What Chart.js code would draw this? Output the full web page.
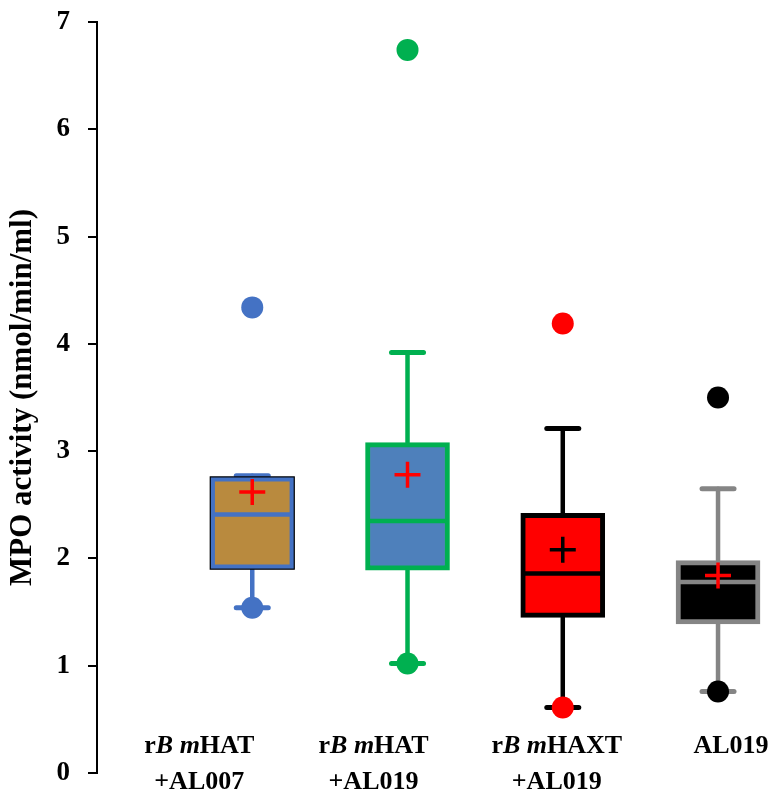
<!DOCTYPE html>
<html>
<head>
<meta charset="utf-8">
<script src="https://cdn.jsdelivr.net/npm/chart.js@4.4.0/dist/chart.umd.min.js"></script>
<style>
  html, body { margin: 0; padding: 0; background: #fff; }
  #wrap { width: 778px; height: 802px; position: relative; }
</style>
</head>
<body>
<div id="wrap"><canvas id="chart"></canvas></div>
<script>
// Datos (MPO activity, nmol/min/ml)
// *...* marca el texto en cursiva
const categories = [
    ['r*B m*HAT', '+AL007'],
    ['r*B m*HAT', '+AL019'],
    ['r*B m*HAXT', '+AL019'],
    ['AL019']
];
const q1Values      = [1.90, 1.89, 1.45, 1.39];
const q3Values      = [2.76, 3.08, 2.42, 1.98];
const medianValues  = [2.41, 2.35, 1.86, 1.78];
const meanValues    = [2.62, 2.78, 2.08, 1.84];
const minValues     = [1.54, 1.02, 0.61, 0.76];
const maxValues     = [2.77, 3.92, 3.21, 2.65];
const outlierValues = [4.34, 6.74, 4.19, 3.50];
const yTickLabels   = ['0', '1', '2', '3', '4', '5', '6', '7'];

// Estilos
const boxFill   = ['#B98A3E', '#4E80BB', '#FF0000', '#000000'];
const lineColor = ['#4472C4', '#00B050', '#000000', '#858585'];
const dotColor  = ['#4472C4', '#00B050', '#FF0000', '#000000'];
const meanColor = ['#FF0000', '#FF0000', '#000000', '#FF0000'];
const labelShift = [-53, -34, -6, 13];
const serif = '"Liberation Serif", "Times New Roman", serif';

// Bigotes, medianas y etiquetas de categoría
const boxPlotPlugin = {
    id: 'boxPlotLines',
    beforeDatasetsDraw(chart) {
        const { ctx, scales: { x, y } } = chart;
        ctx.save();
        ctx.lineCap = 'round';
        q1Values.forEach((q1, i) => {
            const cx = x.getPixelForValue(i + 1);
            ctx.strokeStyle = lineColor[i];
            ctx.lineWidth = 4.5;
            ctx.beginPath();
            ctx.moveTo(cx, y.getPixelForValue(maxValues[i]));
            ctx.lineTo(cx, y.getPixelForValue(q3Values[i]));
            ctx.moveTo(cx, y.getPixelForValue(q1));
            ctx.lineTo(cx, y.getPixelForValue(minValues[i]));
            ctx.stroke();
            ctx.lineWidth = 5;
            [maxValues[i], minValues[i]].forEach(v => {
                const py = y.getPixelForValue(v);
                ctx.beginPath();
                ctx.moveTo(cx - 16, py);
                ctx.lineTo(cx + 16, py);
                ctx.stroke();
            });
        });
        ctx.restore();
    },
    afterDatasetDraw(chart, args) {
        if (args.index !== 0) return;
        const { ctx, scales: { x, y } } = chart;
        ctx.save();
        medianValues.forEach((m, i) => {
            const cx = x.getPixelForValue(i + 1);
            const py = y.getPixelForValue(m);
            ctx.strokeStyle = lineColor[i];
            ctx.lineWidth = 4.5;
            ctx.beginPath();
            ctx.moveTo(cx - 40, py);
            ctx.lineTo(cx + 40, py);
            ctx.stroke();
        });
        // fino contorno negro de la primera caja
        const c0 = x.getPixelForValue(1);
        const top = y.getPixelForValue(q3Values[0]);
        const bot = y.getPixelForValue(q1Values[0]);
        ctx.strokeStyle = '#000';
        ctx.lineWidth = 1.2;
        ctx.strokeRect(c0 - 42, top, 84, bot - top);
        ctx.restore();
    },
    afterDraw(chart) {
        const { ctx, scales: { x } } = chart;
        const base = chart.chartArea.bottom;
        ctx.save();
        ctx.fillStyle = '#000';
        ctx.textBaseline = 'middle';
        categories.forEach((lines, i) => {
            const cx = x.getPixelForValue(i + 1) + labelShift[i];
            lines.forEach((line, j) => {
                const parts = line.split('*');
                const fonts = parts.map((p, k) => (k % 2 ? 'italic bold 26px ' : 'bold 26px ') + serif);
                let total = 0;
                parts.forEach((p, k) => { ctx.font = fonts[k]; total += ctx.measureText(p).width; });
                let px = cx - total / 2;
                const py = base - 27 + j * 36;
                parts.forEach((p, k) => {
                    ctx.font = fonts[k];
                    ctx.textAlign = 'left';
                    ctx.fillText(p, px, py);
                    px += ctx.measureText(p).width;
                });
            });
        });
        ctx.restore();
    }
};

const ctx = document.getElementById('chart').getContext('2d');
new Chart(ctx, {
    type: 'bar',
    data: {
        datasets: [
            {
                type: 'bar',
                data: q1Values.map((v, i) => ({ x: i + 1, y: [v, q3Values[i]] })),
                backgroundColor: boxFill,
                borderColor: lineColor,
                borderWidth: 5,
                borderSkipped: false,
                barThickness: 84,
                grouped: false,
                order: 3
            },
            {
                type: 'scatter',
                data: minValues.map((v, i) => ({ x: i + 1, y: v }))
                    .concat(outlierValues.map((v, i) => ({ x: i + 1, y: v }))),
                backgroundColor: dotColor.concat(dotColor),
                borderWidth: 0,
                pointRadius: 11,
                order: 2
            },
            {
                type: 'scatter',
                data: meanValues.map((v, i) => ({ x: i + 1, y: v })),
                pointStyle: 'cross',
                pointRadius: 13,
                borderWidth: 3.5,
                borderColor: meanColor,
                order: 1
            }
        ]
    },
    options: {
        responsive: true,
        maintainAspectRatio: false,
        animation: false,
        layout: { padding: { top: 22, right: 5, bottom: 29, left: 0 } },
        plugins: { legend: { display: false }, tooltip: { enabled: false } },
        scales: {
            x: { type: 'linear', min: 0, max: 4.28, offset: false, display: false },
            y: {
                min: 0,
                max: 7,
                ticks: {
                    stepSize: 1,
                    padding: 18,
                    color: '#000',
                    font: { family: serif, weight: 'bold', size: 27 },
                    callback: (v) => yTickLabels[v]
                },
                grid: { drawOnChartArea: false, tickLength: 9, color: '#000', lineWidth: 2 },
                border: { color: '#000', width: 2 },
                title: {
                    display: true,
                    text: 'MPO activity (nmol/min/ml)',
                    color: '#000',
                    font: { family: serif, weight: 'bold', size: 31 },
                    padding: { top: 4, bottom: 0 }
                },
                afterFit: (scale) => {
                    scale.width = 97;
                    scale.paddingTop = 0;
                    scale.paddingBottom = 0;
                }
            }
        }
    },
    plugins: [boxPlotPlugin]
});
</script>
</body>
</html>
